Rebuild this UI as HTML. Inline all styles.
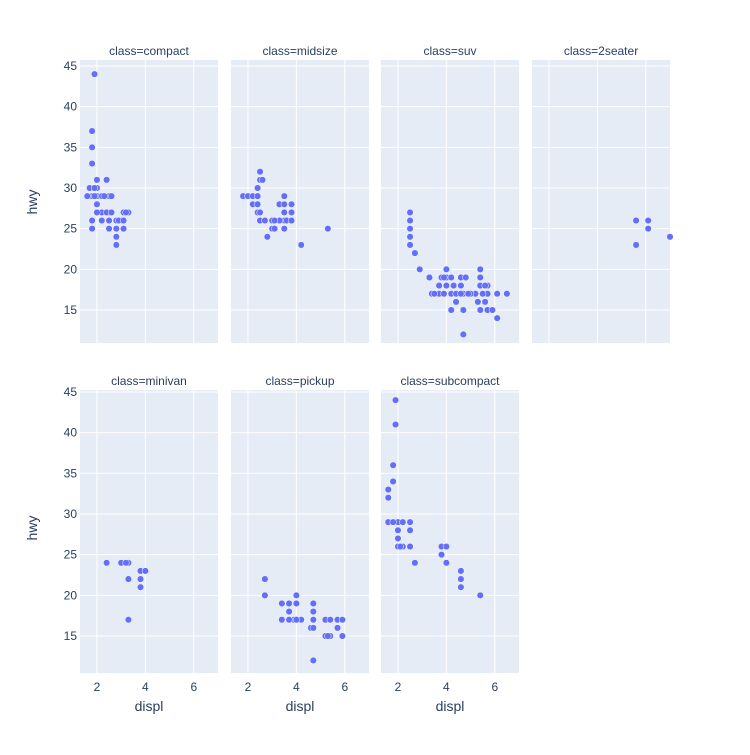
<!DOCTYPE html>
<html><head><meta charset="utf-8"><style>
body{margin:0;background:#fff}
text{font-family:"Liberation Sans",sans-serif;fill:#2a3f5f}
</style></head><body>
<svg id="s" width="750" height="750" xmlns="http://www.w3.org/2000/svg"></svg>
<script>
const s=document.getElementById('s');
const cols=[80,231,381,532],W=138,rows=[[60,343],[390,673]];
const xr=[1.3,7.0];
function yr(r){return r==0?{y45:66,y15:310}:{y45:392,y15:636};}
let h='';
const panels=[
['compact',0,0,[[1.8,29],[1.8,29],[2,31],[2,30],[2.8,26],[2.8,26],[3.1,27],[1.8,26],[1.8,25],[2,28],[2,29],[2.8,25],[2.8,25],[3.1,25],[2.2,26],[2.2,27],[2.4,31],[3,26],[3.3,27],[1.8,35],[1.8,37],[1.8,33],[2.5,29],[2.5,26],[2.5,27],[2.2,29],[2.5,25],[1.9,44],[2,27],[2.8,23],[2.8,24],[1.9,29],[1.6,29],[1.7,30],[2.3,29],[2.6,29],[2.4,27],[2.6,27],[3.2,27],[2.9,26],[3.1,26],[1.9,30]]],
['midsize',1,0,[[1.8,29],[2,29],[2.2,29],[2.4,29],[2.2,28],[2.4,27],[2.5,27],[2.5,26],[2.7,26],[3,26],[3.5,26],[3,25],[3.1,25],[3.5,25],[2.8,24],[2.4,30],[2.5,31],[2.6,31],[2.5,32],[3.5,29],[3.3,28],[3.5,28],[3.8,28],[3.5,27],[3.8,27],[3.6,26],[3.8,26],[4.2,23],[5.3,25],[2.4,28],[2.7,26],[3.3,26],[3.1,26]]],
['suv',2,0,[[2.5,27],[2.5,26],[2.5,25],[2.5,24],[2.5,23],[2.7,22],[2.9,20],[3.8,19],[4,19],[4.2,19],[4.6,19],[5.4,19],[4,20],[5.4,20],[3.7,17],[3.9,17],[4.2,17],[4.7,17],[5.2,17],[5.7,17],[6.1,17],[6.5,17],[3.4,17],[3.5,17],[4.4,17],[4.6,17],[5,17],[5.5,17],[4.7,12],[6.1,14],[4.2,15],[4.7,15],[5.4,15],[5.7,15],[5.9,15],[5.3,16],[5.6,16],[4,18],[4.3,18],[5.4,18],[5.7,18],[5.6,18],[3.7,18],[4.6,18],[4.4,16],[4.9,17],[3.3,19],[3.9,19],[4.8,19]]],
['2seater',3,0,[[5.6,26],[5.6,23],[6.1,26],[6.1,25],[7.0,24]]],
['minivan',0,1,[[2.4,24],[3,24],[3.3,22],[3.3,24],[3.3,17],[3.8,22],[3.8,21],[3.8,23],[4,23],[3.2,24]]],
['pickup',1,1,[[2.7,20],[2.7,22],[3.4,19],[3.7,18],[3.9,17],[4,20],[4.7,17],[4.7,12],[5.2,17],[5.7,16],[4.2,17],[4.6,16],[5.4,15],[5.4,17],[5.9,15],[3.7,17],[4,19],[4.7,19],[3.4,17],[5.2,15],[5.7,17],[4.7,16],[3.7,19],[4.7,18],[5.9,17],[5.3,15],[4,17]]],
['subcompact',2,1,[[1.6,33],[1.6,32],[1.6,29],[1.8,36],[1.8,34],[1.9,41],[1.9,44],[2,29],[2,28],[2,27],[2,26],[2.2,26],[2.5,29],[2.5,28],[2.5,26],[2.7,24],[3.8,26],[3.8,25],[4,26],[4,24],[4.6,23],[4.6,22],[4.6,21],[5.4,20],[2.1,26],[2.2,29],[1.8,29],[1.8,36],[2.5,26]]]
];
for(let r=0;r<2;r++)for(let c=0;c<4;c++){
 if(r==1&&c==3)continue;
 const x0=cols[c],[t,b]=rows[r],Y=yr(r);
 h+=`<rect x="${x0}" y="${t}" width="${W}" height="${b-t}" fill="#e5ecf6"/>`;
 const fx=v=>x0+(v-xr[0])/(xr[1]-xr[0])*W;
 const fy=v=>Y.y15+(v-15)*(Y.y45-Y.y15)/30;
 for(let v=15;v<=45;v+=5)h+=`<line x1="${x0}" x2="${x0+W}" y1="${fy(v)}" y2="${fy(v)}" stroke="#fff" stroke-width="1"/>`;
 for(const v of [2,4,6])h+=`<line x1="${fx(v)}" x2="${fx(v)}" y1="${t}" y2="${b}" stroke="#fff" stroke-width="1"/>`;
 if(c==0)for(let v=15;v<=45;v+=5)h+=`<text x="${x0-3}" y="${fy(v)+4}" font-size="12" text-anchor="end">${v}</text>`;
 if(r==1)for(const v of [2,4,6])h+=`<text x="${fx(v)}" y="${b+18}" font-size="12" text-anchor="middle">${v}</text>`;
}
h+=`<text x="37" y="202" font-size="14" text-anchor="middle" transform="rotate(-90 37 202)">hwy</text>`;
h+=`<text x="37" y="528" font-size="14" text-anchor="middle" transform="rotate(-90 37 528)">hwy</text>`;
for(let c=0;c<3;c++)h+=`<text x="${cols[c]+W/2}" y="711" font-size="14" text-anchor="middle">displ</text>`;
for(const [n,c,r,pts] of panels){
 const x0=cols[c],Y=yr(r);
 const fx=v=>x0+(v-xr[0])/(xr[1]-xr[0])*W;
 const fy=v=>Y.y15+(v-15)*(Y.y45-Y.y15)/30;
 h+=`<text x="${x0+W/2}" y="${rows[r][0]-5}" font-size="12" text-anchor="middle">class=${n}</text>`;
 for(const [a,b] of pts){const px=fx(a);if(px>x0+W+2)continue;h+=`<circle cx="${px}" cy="${fy(b)}" r="3.3" fill="#636efa" stroke="#fff" stroke-width="0.5"/>`;}
}
s.innerHTML=h;
</script>
</body></html>
